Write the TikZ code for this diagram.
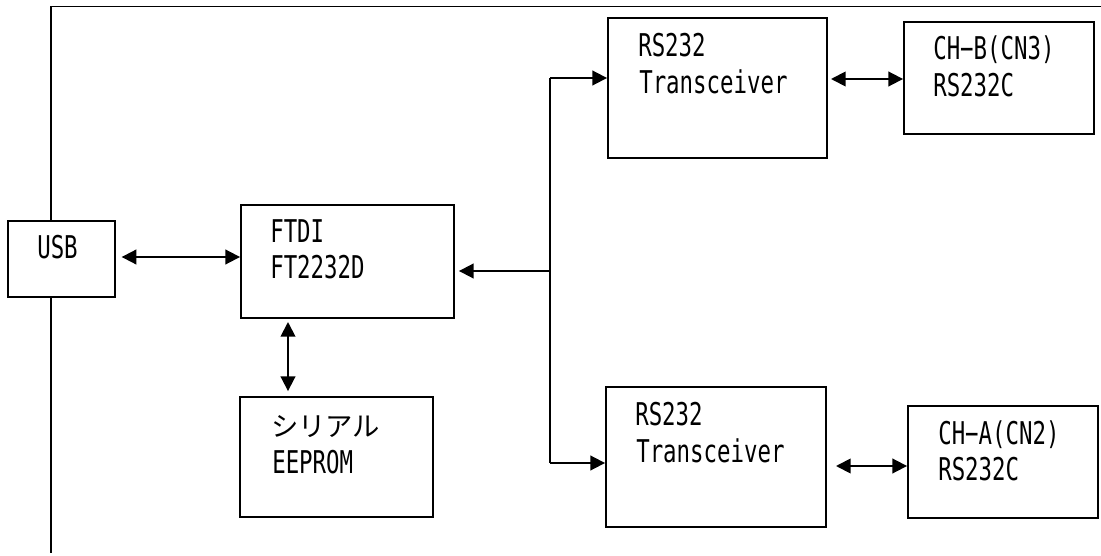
\documentclass[tikz,border=0pt]{standalone}
\usepackage{fontspec}
\usetikzlibrary{arrows.meta}
\newfontfamily\gothic[FakeStretch=0.715]{DejaVu Sans Mono}
\newfontfamily\jpfont{Noto Sans CJK JP}
\begin{document}
\begin{tikzpicture}[x=0.75pt,y=-0.75pt,
  box/.style={draw=black,line width=1.4pt,inner sep=0pt,rectangle},
  txt/.style={anchor=base west,inner sep=0pt,font=\gothic\fontsize{23.5pt}{27pt}\selectfont},
  wire/.style={line width=1.4pt},
  tip/.style={wire,-{Triangle[length=11pt,width=11pt]}},
  bitip/.style={wire,{Triangle[length=11pt,width=11pt]}-{Triangle[length=11pt,width=11pt]}}]
\useasboundingbox (0,0) rectangle (1101,556);
% frame
\coordinate (fb) at (51,553);
\coordinate (fc) at (51,6.5);
\coordinate (fr) at (1101,6.5);
% boxes
\node[box,minimum width=80.25pt,minimum height=57pt] (usb) at (61.5,259) {};
\node[box,minimum width=159.75pt,minimum height=84.75pt] (ftdi) at (347.5,261.5) {};
\node[box,minimum width=144.75pt,minimum height=90pt] (eep) at (336.5,457) {};
\node[box,minimum width=164.25pt,minimum height=105pt] (rsb) at (717.5,88) {};
\node[box,minimum width=165pt,minimum height=105pt] (rsa) at (716,457) {};
\node[box,minimum width=142.5pt,minimum height=84pt] (chb) at (999,78) {};
\node[box,minimum width=142.5pt,minimum height=84pt] (cha) at (1003,462) {};
\draw[wire] (usb.north -| fc) -- (fc) -- (fr);
\draw[wire] (usb.south -| fc) -- (fb);
% texts
\node[txt] (t1) at (37,259) {USB};
\node[txt] (t2) at (270,243) {FTDI};
\node[txt] (t3) at (270,279) {FT2232D};
\node[txt,font=\jpfont\fontsize{20.5pt}{27pt}\selectfont] (t4) at (271,436) {シリアル};
\node[txt] (t5) at (272,473) {EEPROM};
\node[txt] (t6) at (638,57) {RS232};
\node[txt] (t7) at (639,94) {Transceiver};
\node[txt] (t8) at (933,60) {CH−B(CN3)};
\node[txt] (t9) at (933,97) {RS232C};
\node[txt] (t10) at (635,426) {RS232};
\node[txt] (t11) at (636,462) {Transceiver};
\node[txt] (t12) at (938,445) {CH−A(CN2)};
\node[txt] (t13) at (938,480) {RS232C};
% connectors
\coordinate (ua) at (115,257);
\coordinate (j) at (550,271);
\coordinate (jt) at (550,78);
\coordinate (jb) at (550,463);
\coordinate (ba) at (827,79);
\coordinate (aa) at (826,466);
\coordinate (ea) at (288,318);
\draw[bitip,shorten <=5pt] (ua) -- (ftdi.west |- ua);
\draw[tip,shorten >=3pt] (j) -- (ftdi.east |- j);
\draw[wire] (jt) -- (jb);
\draw[tip] (jt) -- (rsb.west |- jt);
\draw[tip] (jb) -- (rsa.west |- jb);
\draw[bitip,shorten <=3pt] (ba) -- (chb.west |- ba);
\draw[bitip,shorten <=7.5pt] (aa) -- (cha.west |- aa);
\draw[bitip,shorten <=3pt,shorten >=3.75pt] (ea) -- (eep.north -| ea);
\end{tikzpicture}
\end{document}
